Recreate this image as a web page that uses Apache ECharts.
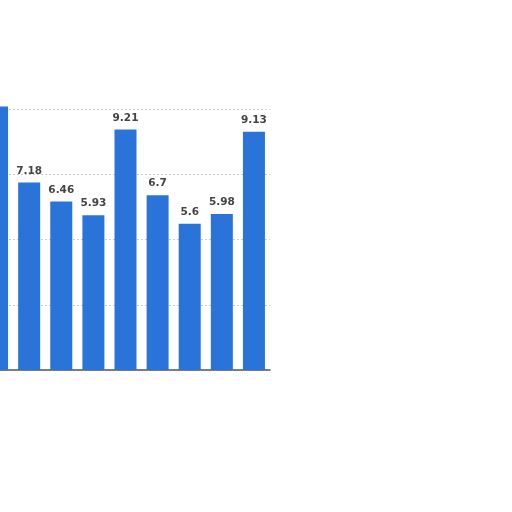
<!DOCTYPE html>
<html>
<head>
<meta charset="utf-8">
<script src="https://cdn.jsdelivr.net/npm/echarts@6/dist/echarts.min.js"></script>
<style>html,body{margin:0;padding:0;background:#fff;overflow:hidden}#wrap{position:relative;width:512px;height:512px;overflow:hidden}#c{position:absolute;left:-19px;top:0;width:531px;height:512px}</style>
</head>
<body>
<div id="wrap"><div id="c"></div></div>
<script>
const categories = ['c1', 'c2', 'c3', 'c4', 'c5', 'c6', 'c7', 'c8', 'c9'];
const values = [10.1, 7.18, 6.46, 5.93, 9.21, 6.7, 5.6, 5.98, 9.13];
const labels = ['', '7.18', '6.46', '5.93', '9.21', '6.7', '5.6', '5.98', '9.13'];

const chart = echarts.init(document.getElementById('c'), null, {renderer: 'canvas'});
chart.setOption({
  animation: false,
  backgroundColor: '#ffffff',
  grid: {left: 0, right: 242, top: 109, bottom: 142, containLabel: false},
  xAxis: {
    type: 'category',
    data: categories,
    axisLine: {show: true, lineStyle: {color: '#555', width: 1.5}},
    axisTick: {show: false},
    axisLabel: {show: false},
    splitLine: {show: false}
  },
  yAxis: {
    type: 'value',
    min: 0,
    max: 10,
    interval: 2.5,
    axisLine: {show: false},
    axisTick: {show: false},
    axisLabel: {show: false},
    splitLine: {show: true, lineStyle: {color: ['#ddd', '#ccc', '#ccc', '#ccc', '#cfcfcf'], type: [2, 2], width: 1}}
  },
  series: [{
    type: 'bar',
    data: values,
    barWidth: 22,
    clip: false,
    itemStyle: {color: '#2a74d9'},
    label: {
      show: true,
      position: 'top',
      distance: 6,
      formatter: p => labels[p.dataIndex],
      color: '#444',
      fontWeight: 'bold',
      fontSize: 10.5,
      fontFamily: 'DejaVu Sans'
    }
  }]
});
</script>
</body>
</html>
